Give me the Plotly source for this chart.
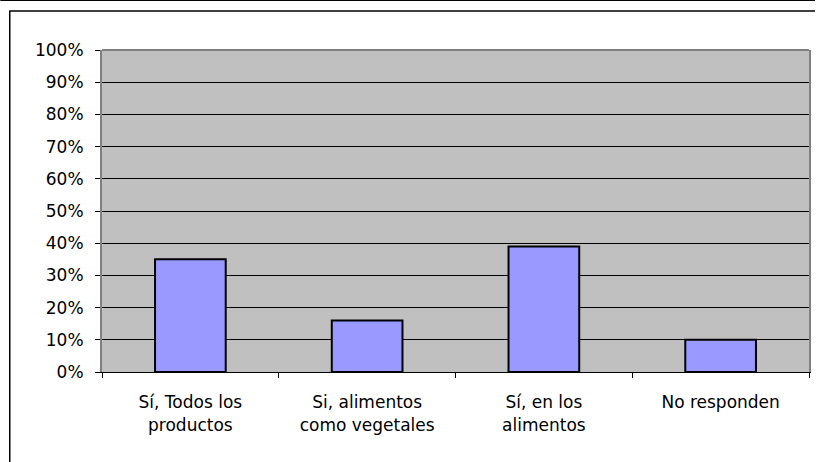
import plotly.graph_objects as go

categories = ["Sí, Todos los<br>productos", "Si, alimentos<br>como vegetales", "Sí, en los<br>alimentos", "No responden"]
values = [0.35, 0.16, 0.39, 0.10]
y_tick_vals = [0, 0.1, 0.2, 0.3, 0.4, 0.5, 0.6, 0.7, 0.8, 0.9, 1.0]
y_tick_text = ["0%", "10%", "20%", "30%", "40%", "50%", "60%", "70%", "80%", "90%", "100%"]

W, H = 817, 462
L, R, T, B = 102, 6, 50, 90
PW, PH = W - L - R, H - T - B

def px(x):
    return (x - L) / PW

def py(y):
    return (H - B - y) / PH

fig = go.Figure(go.Bar(
    x=categories, y=values, width=0.4,
    marker=dict(color="#9999FF", line=dict(color="black", width=2)),
))

font = dict(family="DejaVu Sans", size=17, color="black")

fig.update_layout(
    width=W, height=H,
    margin=dict(l=L, r=R, t=T, b=B, pad=0),
    paper_bgcolor="white", plot_bgcolor="#C0C0C0",
    font=font, showlegend=False, bargap=0.6,
    xaxis=dict(type="category", range=[-0.5, 3.5], tickson="boundaries",
               ticks="outside", ticklen=5, tickcolor="black", tickwidth=1,
               showline=True, linecolor="black", linewidth=1,
               showgrid=False, tickfont=font, ticklabelstandoff=15),
    yaxis=dict(range=[0, 1], tickvals=y_tick_vals, ticktext=y_tick_text,
               ticks="outside", ticklen=5, tickcolor="black", tickwidth=1,
               showline=True, linecolor="#808080", linewidth=2, mirror=True,
               showgrid=True, gridcolor="black", gridwidth=1, zeroline=False,
               tickfont=font, ticklabelstandoff=8),
    shapes=[
        dict(type="line", xref="paper", yref="paper", x0=0, x1=1, y0=1, y1=1,
             line=dict(color="#808080", width=2)),
        dict(type="line", xref="paper", yref="paper", x0=px(0), x1=px(W), y0=py(0.5), y1=py(0.5),
             line=dict(color="black", width=1)),
        dict(type="line", xref="paper", yref="paper", x0=px(9), x1=px(W), y0=py(11), y1=py(11),
             line=dict(color="black", width=1.5)),
        dict(type="line", xref="paper", yref="paper", x0=px(9.5), x1=px(9.5), y0=py(11), y1=py(H),
             line=dict(color="black", width=1.5)),
    ],
)

fig.write_html("out.html", config={"displayModeBar": False},
               post_script="document.body.style.margin='0';document.body.style.overflow='hidden';")
